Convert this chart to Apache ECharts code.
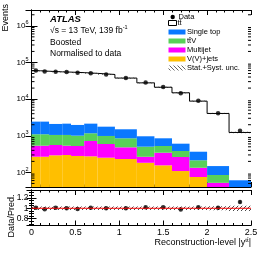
<!DOCTYPE html>
<html><head><meta charset="utf-8">
<script src="https://cdn.jsdelivr.net/npm/echarts@6/dist/echarts.min.js"></script>
<style>html,body{margin:0;padding:0;background:#fff}#c{width:266px;height:258px}</style>
</head><body><div id="c"></div>
<script>
// ---- data ----
const binEdges   = [0,0.1,0.2,0.35,0.45,0.6,0.75,0.95,1.2,1.4,1.6,1.8,2.0,2.25,2.5];
const dataEvents = [60000,56500,56000,54500,52000,51000,47000,37500,28300,21500,14500,9000,4100,1380];
const vvJets     = [268,268,293,299,281,275,252,232,183,156,109,75,30,15];
const multijet   = [268,268,267,237,245,446,345,252,84,189,154,59,22,10];
const ttV        = [563,563,492,516,480,449,390,369,237,181,121,80,33,10];
const singleTop  = [1331,1331,1048,1088,966,970,783,650,464,327,224,153,64,26];
const ttbar      = [56970,55220,53350,52360,50830,48360,45230,36000,26780,20230,14260,8450,3910,1170];
const ratio      = [1.01,0.98,1.01,1.0,0.985,1.01,1.0,1.0,1.02,1.02,0.975,1.02,1.01,1.12];
const ratioErr   = [0.005,0.005,0.005,0.005,0.005,0.005,0.005,0.006,0.007,0.008,0.01,0.012,0.018,0.03];
const relUnc     = [0.035,0.035,0.035,0.035,0.035,0.035,0.035,0.035,0.035,0.035,0.035,0.035,0.04,0.05];
const yPowers    = [2,3,4,5,6];
const xTickLabels = [0,0.5,1,1.5,2,2.5];

const Y_MIN = 40, Y_MAX = 2.7e6, R_MIN = 0.67, R_MAX = 1.35;
const COL = {blue:'#0a78ff', green:'#58d058', magenta:'#ff00ff', orange:'#ffbf00'};
const FONT = 'Liberation Sans, Arial, Helvetica, sans-serif';

function hatch(color, dir){
  const s = 4, c = document.createElement('canvas'); c.width = c.height = s;
  const g = c.getContext('2d'); g.strokeStyle = color; g.lineWidth = 0.9; g.beginPath();
  if (dir === '/') { g.moveTo(0,s); g.lineTo(s,0); g.moveTo(-1,1); g.lineTo(1,-1); g.moveTo(s-1,s+1); g.lineTo(s+1,s-1); }
  else { g.moveTo(0,0); g.lineTo(s,s); g.moveTo(s-1,-1); g.lineTo(s+1,1); g.moveTo(-1,s-1); g.lineTo(1,s+1); }
  g.stroke(); return {image:c, repeat:'repeat'};
}

const comps = [vvJets, multijet, ttV, singleTop];
const compColors = [COL.orange, COL.magenta, COL.green, COL.blue];
const stackRects = [], totals = [], centers = [];
for (let i = 0; i < dataEvents.length; i++) {
  let cum = 0;
  comps.forEach((arr, k) => {
    const lo = cum; cum += arr[i];
    stackRects.push([binEdges[i], binEdges[i+1], Math.max(lo, Y_MIN), Math.max(cum, Y_MIN), k]);
  });
  totals.push(cum + ttbar[i]);
  centers.push((binEdges[i] + binEdges[i+1]) / 2);
}
const stepData = binEdges.map((e, i) => [e, totals[Math.min(i, totals.length - 1)]]);
const bandData = totals.map((t, i) => [binEdges[i], binEdges[i+1], t*(1-relUnc[i]), t*(1+relUnc[i])]);
const ratioBand = relUnc.map((u, i) => [binEdges[i], binEdges[i+1], 1-u, 1+u]);
const minorVals = [];
for (let n = 1; n <= 6; n++) for (let k = 2; k <= 9; k++) { const v = k*Math.pow(10,n); if (v > Y_MIN && v < Y_MAX) minorVals.push([0, v]); }

function rectItem(fill){
  return (p, api) => {
    const a = api.coord([api.value(0), api.value(3)]);
    const b = api.coord([api.value(1), api.value(2)]);
    return {type:'rect', shape:{x:a[0], y:a[1], width:b[0]-a[0], height:b[1]-a[1]},
            style:{fill: typeof fill === 'function' ? fill(api) : fill}};
  };
}

const axisLine = {show:true, lineStyle:{color:'#000', width:1}};
function xAx(grid, pos, labels){
  return {type:'value', gridIndex:grid, position:pos, min:0, max:2.5, interval:0.5,
    axisLine: axisLine, splitLine:{show:false},
    axisTick:{show:true, inside:true, length:5, lineStyle:{color:'#000'}},
    minorTick:{show:true, splitNumber:5, length:2.5, lineStyle:{color:'#000'}},
    axisLabel:{show:labels, margin:3, fontSize:9, fontFamily:FONT, color:'#000',
      formatter: v => xTickLabels.includes(+v.toFixed(2)) ? String(+v.toFixed(2)) : ''}};
}
const supRich = {sup:{fontSize:5.5, fontFamily:FONT, color:'#000', padding:[0,0,6,0]}, b:{fontSize:8, fontFamily:FONT, color:'#000'}};
function yLog(pos, labels){
  return {type:'log', logBase:10, gridIndex:0, position:pos, min:Y_MIN, max:Y_MAX,
    axisLine: axisLine, splitLine:{show:false},
    axisTick:{show:true, inside:true, length:6, lineStyle:{color:'#000'}},
    axisLabel:{show:labels, margin:3, showMinLabel:false, showMaxLabel:false, rich:supRich,
      formatter: v => { const l = Math.log10(v), r = Math.round(l);
        return (Math.abs(l-r) < 1e-6 && yPowers.includes(r)) ? '{b|10}{sup|' + r + '}' : ''; }}};
}
function yRatio(pos, labels){
  return {type:'value', gridIndex:1, position:pos, min:R_MIN, max:R_MAX, splitNumber:3,
    axisLine: axisLine, splitLine:{show:false},
    axisTick:{show:true, inside:true, length:5, lineStyle:{color:'#000'}},
    minorTick:{show:true, splitNumber:4, length:2.5, lineStyle:{color:'#000'}},
    axisLabel:{show:labels, margin:3, fontSize:8.5, fontFamily:FONT, color:'#000', showMinLabel:false, showMaxLabel:false,
      formatter: v => String(+v.toFixed(2))}};
}

const txt = (x, y, text, size, extra) => Object.assign({type:'text', x, y, silent:true,
  style:Object.assign({text, fill:'#000', font: size + 'px ' + FONT, textVerticalAlign:'middle'}, (extra||{}).style||{})},
  Object.assign({}, extra||{}, {style:undefined}));

const legendRows = [
  ['Single top', COL.blue, 32], ['tt\u0304V', COL.green, 41], ['Multijet', COL.magenta, 50], ['V(V)+jets', COL.orange, 59]
];
const graphics = [
  {type:'text', x:50, y:19, silent:true, style:{text:'ATLAS', fill:'#000', font:'italic bold 9.5px ' + FONT, textVerticalAlign:'middle'}},
  {type:'text', x:50, y:30.5, silent:true, style:{text:'\u221As = 13 TeV, 139 fb{s|-1}', fill:'#000', font:'8.5px ' + FONT, textVerticalAlign:'middle',
     rich:{s:{fontSize:5.5, fontFamily:FONT, padding:[0,0,6,0]}}}},
  {type:'text', x:50, y:42.5, silent:true, style:{text:'Boosted', fill:'#000', font:'8.5px ' + FONT, textVerticalAlign:'middle'}},
  {type:'text', x:50, y:53.5, silent:true, style:{text:'Normalised to data', fill:'#000', font:'8.5px ' + FONT, textVerticalAlign:'middle'}},
  // legend
  {type:'circle', silent:true, shape:{cx:172.7, cy:17, r:2.2}, style:{fill:'#000'}},
  {type:'text', x:178.5, y:17, silent:true, style:{text:'Data', fill:'#000', font:'7.5px ' + FONT, textVerticalAlign:'middle'}},
  {type:'rect', silent:true, shape:{x:168.5, y:20.5, width:8, height:5}, style:{fill:'#fff', stroke:'#000', lineWidth:1}},
  {type:'text', x:177.5, y:23, silent:true, style:{text:'tt\u0304', fill:'#000', font:'7.5px ' + FONT, textVerticalAlign:'middle'}},
  {type:'rect', silent:true, shape:{x:168.5, y:65.5, width:17, height:5}, style:{fill:hatch('#555', '\\')}},
  {type:'text', x:187, y:68, silent:true, style:{text:'Stat.+Syst. unc.', fill:'#000', font:'7.5px ' + FONT, textVerticalAlign:'middle'}},
  // axis titles
  {type:'text', x:6, y:4, rotation:Math.PI/2, silent:true, style:{text:'Events', fill:'#000', font:'9px ' + FONT, textAlign:'right', textVerticalAlign:'middle'}},
  {type:'text', x:12, y:216, rotation:Math.PI/2, silent:true, style:{text:'Data/Pred.', fill:'#000', font:'9px ' + FONT, textAlign:'center', textVerticalAlign:'middle'}},
  {type:'text', x:251, y:243, silent:true, style:{text:'Reconstruction-level |y{s|tt\u0304}|', fill:'#000', font:'9px ' + FONT, textAlign:'right', textVerticalAlign:'middle',
     rich:{s:{fontSize:6, fontFamily:FONT, padding:[0,0,6,0]}}}}
];
legendRows.forEach(([name, col, y]) => {
  graphics.push({type:'rect', silent:true, shape:{x:168.5, y:y-2.5, width:17, height:5}, style:{fill:col}});
  graphics.push({type:'text', x:187, y:y, silent:true, style:{text:name, fill:'#000', font:'7.5px ' + FONT, textVerticalAlign:'middle'}});
});

const chart = echarts.init(document.getElementById('c'), null, {renderer:'canvas', width:266, height:258});
chart.setOption({
  animation:false, backgroundColor:'#fff',
  grid:[{left:31.5, right:15, top:10, height:177, show:false}, {left:31.5, right:15, top:190, height:35.5, show:false}],
  xAxis:[xAx(0,'bottom',false), xAx(0,'top',false), xAx(1,'bottom',true), xAx(1,'top',false)],
  yAxis:[yLog('left',true), yLog('right',false), yRatio('left',true), yRatio('right',false)],
  graphic: graphics,
  series:[
    {type:'custom', xAxisIndex:0, yAxisIndex:0, clip:true, silent:true, data:stackRects,
     renderItem: rectItem(api => compColors[api.value(4)])},
    {type:'custom', xAxisIndex:0, yAxisIndex:0, clip:true, silent:true, data:bandData,
     renderItem: rectItem(hatch('#777', '\\'))},
    {type:'line', xAxisIndex:0, yAxisIndex:0, step:'end', data:stepData, showSymbol:false, silent:true,
     lineStyle:{color:'#000', width:1}},
    {type:'scatter', xAxisIndex:0, yAxisIndex:0, data:centers.map((c,i)=>[c, dataEvents[i]]), symbol:'circle', symbolSize:4.5,
     itemStyle:{color:'#000'}, silent:true},
    {type:'custom', xAxisIndex:0, yAxisIndex:0, silent:true, data:minorVals,
     renderItem:(p, api) => { const v = api.value(1); const a = api.coord([0, v]), b = api.coord([2.5, v]);
       return {type:'group', children:[
         {type:'line', shape:{x1:a[0], y1:a[1], x2:a[0]+3, y2:a[1]}, style:{stroke:'#000', lineWidth:1}},
         {type:'line', shape:{x1:b[0], y1:b[1], x2:b[0]-3, y2:b[1]}, style:{stroke:'#000', lineWidth:1}}]}; }},
    {type:'line', xAxisIndex:2, yAxisIndex:2, data:[[0,1],[2.5,1]], showSymbol:false, silent:true, lineStyle:{color:'#ff0000', width:1.2}},
    {type:'custom', xAxisIndex:2, yAxisIndex:2, clip:true, silent:true, data:ratioBand,
     renderItem: rectItem(hatch('#333', '/'))},
    {type:'custom', xAxisIndex:2, yAxisIndex:2, silent:true, data:centers.map((c,i)=>[c, ratio[i]-ratioErr[i], ratio[i]+ratioErr[i]]),
     renderItem:(p, api) => { const a = api.coord([api.value(0), api.value(1)]), b = api.coord([api.value(0), api.value(2)]);
       return {type:'line', shape:{x1:a[0], y1:a[1], x2:b[0], y2:b[1]}, style:{stroke:'#000', lineWidth:1}}; }},
    {type:'scatter', xAxisIndex:2, yAxisIndex:2, data:centers.map((c,i)=>[c, ratio[i]]), symbol:'circle', symbolSize:4.5,
     itemStyle:{color:'#000'}, silent:true}
  ]
});
</script></body></html>
